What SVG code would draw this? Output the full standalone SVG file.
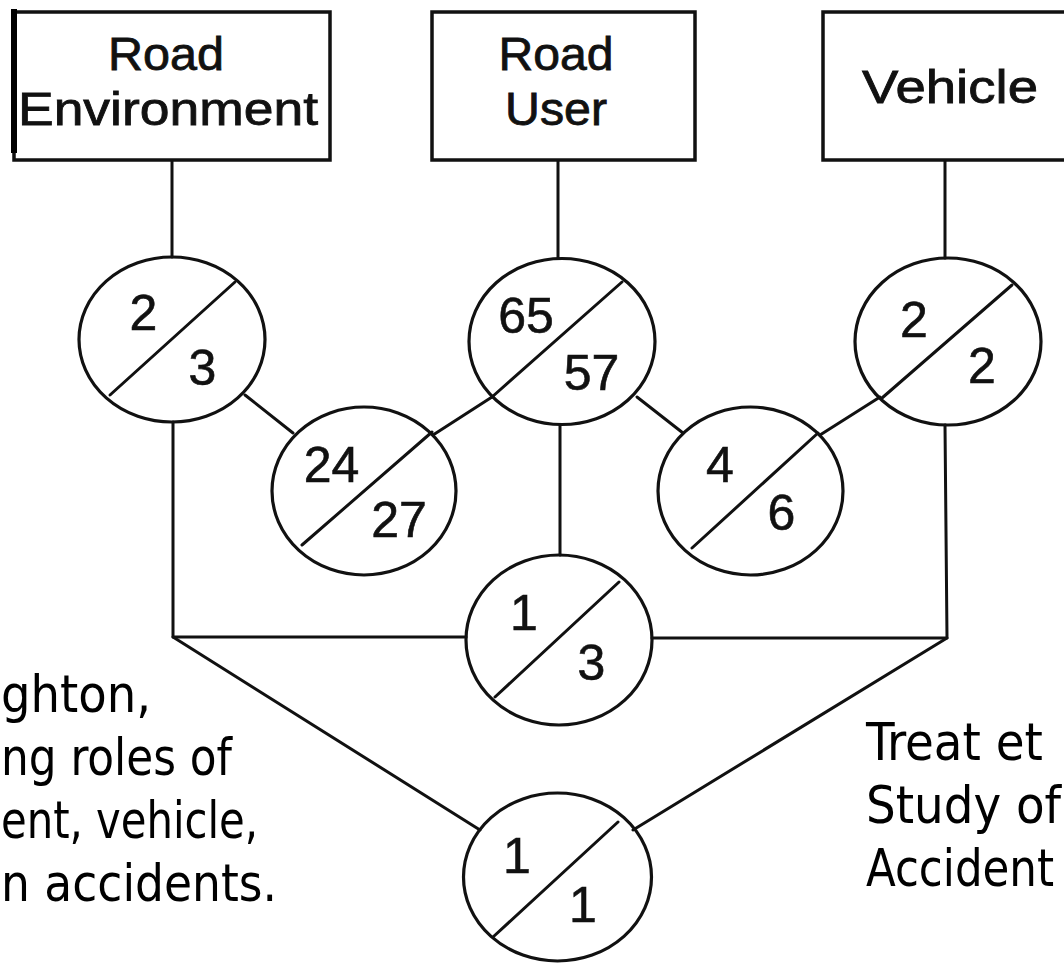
<svg xmlns="http://www.w3.org/2000/svg" width="1064" height="966" viewBox="0 0 1064 966">
<style>
.box{fill:#fff;stroke:#111;stroke-width:3.5}
.circ{fill:none;stroke:#111;stroke-width:3.2}
.ln{fill:none;stroke:#111;stroke-width:3;stroke-linecap:round;stroke-linejoin:round}
.bt{font-family:'Liberation Sans',Arial,sans-serif;font-size:46px;fill:#111;stroke:#111;stroke-width:0.8;text-anchor:middle}
.num{font-family:'Liberation Sans',Arial,sans-serif;font-size:50px;fill:#111;stroke:#111;stroke-width:0.6;text-anchor:middle}
.cap{font-family:'DejaVu Sans Condensed','DejaVu Sans',sans-serif;font-stretch:condensed;font-size:52px;fill:#000}
</style>
<rect width="1064" height="966" fill="#fff"/>
<g id="connectors">
<line class="ln" x1="172" y1="160" x2="172" y2="257"/>
<line class="ln" x1="558" y1="160" x2="558" y2="258"/>
<line class="ln" x1="945" y1="160" x2="945" y2="258"/>
<line class="ln" x1="245" y1="395" x2="293" y2="433"/>
<line class="ln" x1="492" y1="397" x2="433" y2="435"/>
<line class="ln" x1="637" y1="397" x2="683" y2="433"/>
<line class="ln" x1="880" y1="397" x2="820" y2="435"/>
<line class="ln" x1="560" y1="425" x2="560" y2="555"/>
<polyline class="ln" points="173,422 173,637 466,637"/>
<polyline class="ln" points="945,425 947,638 652,638"/>
<line class="ln" x1="173" y1="637" x2="480" y2="830"/>
<line class="ln" x1="947" y1="638" x2="633" y2="830"/>
</g>
<g id="road-environment">
<rect class="box" x="14" y="12" width="316" height="148"/>
<rect x="11" y="9" width="6" height="144" fill="#000"/>
<text class="bt" x="166" y="70" textLength="116" lengthAdjust="spacingAndGlyphs">Road</text>
<text class="bt" x="168" y="125" textLength="300" lengthAdjust="spacingAndGlyphs">Environment</text>
</g>
<g id="road-user">
<rect class="box" x="432" y="12" width="263" height="148"/>
<text class="bt" x="556" y="70" textLength="115" lengthAdjust="spacingAndGlyphs">Road</text>
<text class="bt" x="556" y="125" textLength="102" lengthAdjust="spacingAndGlyphs">User</text>
</g>
<g id="vehicle">
<rect class="box" x="823" y="12" width="260" height="148"/>
<text class="bt" x="950" y="103" textLength="176" lengthAdjust="spacingAndGlyphs">Vehicle</text>
</g>
<g id="c-2-3">
<ellipse class="circ" cx="172" cy="339.5" rx="93" ry="82.5"/>
<line class="ln" x1="110" y1="395" x2="235" y2="282"/>
<text class="num" x="143.5" y="330">2</text>
<text class="num" x="202.5" y="385">3</text>
</g>
<g id="c-65-57">
<ellipse class="circ" cx="562" cy="341.5" rx="93" ry="83"/>
<line class="ln" x1="492" y1="397" x2="622" y2="282"/>
<text class="num" x="526" y="333">65</text>
<text class="num" x="591.5" y="390">57</text>
</g>
<g id="c-2-2">
<ellipse class="circ" cx="948" cy="341.5" rx="93" ry="83.5"/>
<line class="ln" x1="882" y1="398" x2="1012" y2="285"/>
<text class="num" x="914" y="337">2</text>
<text class="num" x="982" y="383">2</text>
</g>
<g id="c-24-27">
<ellipse class="circ" cx="364" cy="491" rx="92" ry="84"/>
<line class="ln" x1="302" y1="545" x2="432" y2="432"/>
<text class="num" x="331.5" y="482">24</text>
<text class="num" x="399" y="537">27</text>
</g>
<g id="c-4-6">
<ellipse class="circ" cx="750.5" cy="491" rx="92.5" ry="84"/>
<line class="ln" x1="692" y1="548" x2="818" y2="433"/>
<text class="num" x="720" y="482">4</text>
<text class="num" x="781.5" y="530">6</text>
</g>
<g id="c-1-3">
<ellipse class="circ" cx="559" cy="640" rx="93" ry="85"/>
<line class="ln" x1="495" y1="697" x2="619" y2="582"/>
<text class="num" x="524" y="630">1</text>
<text class="num" x="591.5" y="680">3</text>
</g>
<g id="c-1-1">
<ellipse class="circ" cx="557.5" cy="877" rx="94" ry="84"/>
<line class="ln" x1="493" y1="937" x2="618" y2="822"/>
<text class="num" x="517" y="873">1</text>
<text class="num" x="583" y="922">1</text>
</g>
<g id="caption-left">
<text class="cap" x="1" y="712" textLength="150" lengthAdjust="spacingAndGlyphs">ghton,</text>
<text class="cap" x="1" y="775" textLength="231" lengthAdjust="spacingAndGlyphs">ng roles of</text>
<text class="cap" x="1" y="838" textLength="257" lengthAdjust="spacingAndGlyphs">ent, vehicle,</text>
<text class="cap" x="1" y="901" textLength="276" lengthAdjust="spacingAndGlyphs">n accidents.</text>
</g>
<g id="caption-right">
<text class="cap" x="866" y="760">Treat et</text>
<text class="cap" x="866" y="823">Study of</text>
<text class="cap" x="866" y="886" textLength="188" lengthAdjust="spacingAndGlyphs">Accident</text>
</g>
</svg>
